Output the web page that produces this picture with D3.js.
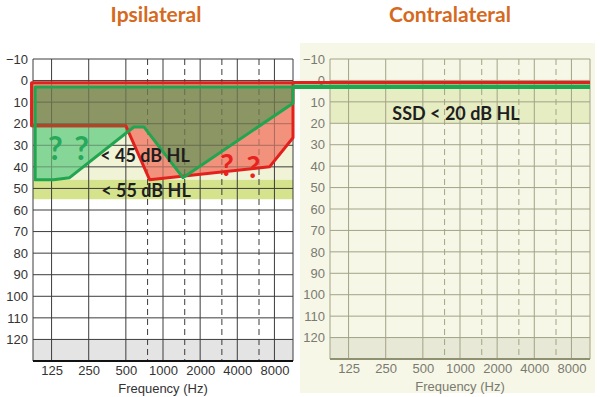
<!DOCTYPE html>
<html>
<head>
<meta charset="utf-8">
<script src="https://cdn.jsdelivr.net/npm/d3@7"></script>
<style>
body { margin: 0; background: #fff; }
svg { display: block; font-family: "Liberation Sans", Arial, sans-serif; }
.label { font-family: Lato, "Open Sans", sans-serif; font-weight: bold; }
</style>
</head>
<body>
<svg id="chart" width="600" height="397"></svg>
<script>
var freqTicks = [125, 250, 500, 1000, 2000, 4000, 8000];
var halfOctaves = [750, 1500, 3000, 6000];
var dbTicks = [-10, 0, 10, 20, 30, 40, 50, 60, 70, 80, 90, 100, 110, 120];
var fMin = 125 / Math.SQRT2;
var fMax = 8000 * Math.SQRT2;

// ipsilateral: red range outline
var redFreq = [86, 86, 500, 780, 7300, fMax, fMax];
var redDb = [1, 21, 21, 46, 40, 26.5, 1];
// ipsilateral: green range outline
var greenFreq = [92, 92, 130, 175, 580, 700, 1450, fMax, fMax];
var greenDb = [3, 46, 46, 45, 21.5, 21.5, 45, 10.5, 3];
// contralateral lines
var contraFreq = [fMin, fMax];
var contraRedDb = [1, 1];
var contraGreenDb = [3, 3];

var ipsiBands = [[0, 46, '#f1f3d7'], [46, 55, '#d5e48c'], [120, 130, '#e4e4e4']];
var contraBands = [[0, 20, '#e6edc2'], [120, 130, '#e7e8d6']];

var svg = d3.select('#chart');
var defs = svg.append('defs');

function zip(fs, dbs) {
    return fs.map(function(f, i) { return [f, dbs[i]]; });
}

function drawGrid(g, x, y, color) {
    g.selectAll('line.h')
        .data(dbTicks)
        .enter().append('line')
        .attr('x1', x(fMin)).attr('x2', x(fMax))
        .attr('y1', function(d) { return y(d); })
        .attr('y2', function(d) { return y(d); })
        .attr('stroke', color);
    g.selectAll('line.v')
        .data([fMin].concat(freqTicks, [fMax]))
        .enter().append('line')
        .attr('y1', y(-10)).attr('y2', y(130))
        .attr('x1', function(d) { return x(d); })
        .attr('x2', function(d) { return x(d); })
        .attr('stroke', color);
    g.selectAll('line.d')
        .data(halfOctaves)
        .enter().append('line')
        .attr('y1', y(-10)).attr('y2', y(130))
        .attr('x1', function(d) { return x(d); })
        .attr('x2', function(d) { return x(d); })
        .attr('stroke', color)
        .attr('stroke-dasharray', '6,4');
}

function panel(opt) {
    var x = d3.scaleLog().base(2).domain([fMin, fMax]).range([opt.x0, opt.x1]);
    var y = d3.scaleLinear().domain([-10, 130]).range([59, opt.yb]);
    var g = svg.append('g');

    g.selectAll('rect.band')
        .data(opt.bands)
        .enter().append('rect')
        .attr('class', 'band')
        .attr('x', x(fMin))
        .attr('width', x(fMax) - x(fMin))
        .attr('y', function(d) { return y(d[0]); })
        .attr('height', function(d) { return y(d[1]) - y(d[0]); })
        .attr('fill', function(d) { return d[2]; });

    drawGrid(g.append('g'), x, y, opt.grid);

    g.append('line')
        .attr('x1', x(fMin)).attr('x2', x(fMax))
        .attr('y1', y(130)).attr('y2', y(130))
        .attr('stroke', opt.axis)
        .attr('stroke-width', 2);

    var yAxis = g.append('g')
        .attr('transform', 'translate(' + x(fMin) + ',0)')
        .call(d3.axisLeft(y).tickValues(dbTicks).tickSize(0).tickPadding(5));
    var xAxis = g.append('g')
        .attr('transform', 'translate(0,' + y(130) + ')')
        .call(d3.axisBottom(x).tickValues(freqTicks).tickFormat(d3.format('d')).tickSize(0).tickPadding(5));
    [yAxis, xAxis].forEach(function(a) {
        a.select('.domain').remove();
        a.selectAll('text')
            .attr('fill', opt.text)
            .style('font-size', '13px')
            .style('font-family', '"Liberation Sans", Arial, sans-serif');
    });

    g.append('text')
        .attr('x', (x(fMin) + x(fMax)) / 2)
        .attr('y', y(130) + 32)
        .attr('text-anchor', 'middle')
        .attr('fill', opt.text)
        .style('font-size', '13px')
        .text('Frequency (Hz)');

    return { x: x, y: y, g: g };
}

// contralateral background
svg.append('rect')
    .attr('x', 300).attr('y', 43)
    .attr('width', 295).attr('height', 350)
    .attr('fill', '#f6f7e7');

var left = panel({ x0: 33, x1: 293, yb: 361, bands: ipsiBands, grid: '#3c3c3c', axis: '#111', text: '#333' });
var right = panel({ x0: 330, x1: 590, yb: 359, bands: contraBands, grid: '#a3a386', axis: '#8f8f72', text: '#7a7a70' });

var line = d3.line()
    .x(function(d) { return left.x(d[0]); })
    .y(function(d) { return left.y(d[1]); });

var redPts = zip(redFreq, redDb);
var greenPts = zip(greenFreq, greenDb);
var redD = line(redPts) + 'Z';
var greenD = line(greenPts) + 'Z';

defs.append('clipPath').attr('id', 'redClip').append('path').attr('d', redD);
var unionClip = defs.append('clipPath').attr('id', 'fillClip');
unionClip.append('path').attr('d', redD);
unionClip.append('path').attr('d', greenD);

var fills = left.g.append('g');
fills.append('path').attr('d', redD).attr('fill', '#f3927d');
fills.append('path').attr('d', greenD).attr('fill', '#86d698');
// overlap of the two ranges
fills.append('path').attr('d', greenD).attr('fill', '#8c9664').attr('clip-path', 'url(#redClip)');

// grid showing through the fills
drawGrid(left.g.append('g').attr('clip-path', 'url(#fillClip)').attr('opacity', 0.35), left.x, left.y, '#222');

left.g.append('path')
    .attr('d', redD)
    .attr('fill', 'none')
    .attr('stroke', '#e3211c')
    .attr('stroke-width', 3)
    .attr('stroke-linejoin', 'round');
// red edge seen through the green range
left.g.append('path')
    .attr('d', line(redPts.slice(1, 3)))
    .attr('fill', 'none')
    .attr('stroke', '#a84a2a')
    .attr('stroke-width', 3);
left.g.append('path')
    .attr('d', greenD)
    .attr('fill', 'none')
    .attr('stroke', '#22a550')
    .attr('stroke-width', 3)
    .attr('stroke-linejoin', 'round');

// contralateral lines, joined to the ipsilateral edge
function contraLine(dbs, color, width) {
    var pts = [[left.x(fMax), right.y(dbs[0])]].concat(contraFreq.map(function(f, i) {
        return [right.x(f), right.y(dbs[i])];
    }));
    svg.append('path')
        .attr('d', d3.line()(pts))
        .attr('fill', 'none')
        .attr('stroke', color)
        .attr('stroke-width', width);
}
contraLine(contraGreenDb, '#22a550', 4.5);
contraLine(contraRedDb, '#e3211c', 3);

// annotations
function note(x, y, txt, size, color) {
    svg.append('text')
        .attr('class', 'label')
        .attr('x', x).attr('y', y)
        .attr('text-anchor', 'middle')
        .attr('dominant-baseline', 'central')
        .attr('fill', color)
        .style('font-size', size + 'px')
        .text(txt);
}
note(left.x(134), left.y(31), '?', 32, '#27a85a');
note(left.x(219), left.y(31), '?', 32, '#27a85a');
note(left.x(3300), left.y(38.5), '?', 30, '#e8231e');
note(left.x(5400), left.y(39.5), '?', 30, '#e8231e');
note(145, left.y(34.5), '< 45 dB HL', 18, '#1e1e1e');
note(146, left.y(50.5), '< 55 dB HL', 18, '#1e1e1e');
note(456, right.y(15), 'SSD < 20 dB HL', 18, '#1e1e1e');

svg.append('text').attr('class', 'label')
    .attr('x', 156).attr('y', 22).attr('text-anchor', 'middle')
    .attr('fill', '#d5691e').style('font-size', '21px').text('Ipsilateral');
svg.append('text').attr('class', 'label')
    .attr('x', 450).attr('y', 22).attr('text-anchor', 'middle')
    .attr('fill', '#d5691e').style('font-size', '21px').text('Contralateral');
</script>
</body>
</html>
